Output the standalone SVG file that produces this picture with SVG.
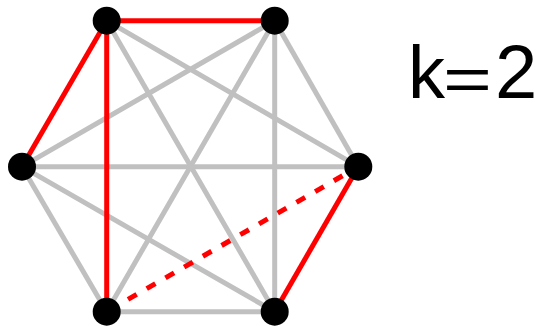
<svg xmlns="http://www.w3.org/2000/svg" width="539" height="326" viewBox="0 0 539 326">
<style>
.g{stroke:#c0c0c0;stroke-width:5;fill:none}
.r{stroke:#ff0000;stroke-width:5;fill:none}
.d{stroke-dasharray:10 11.6;stroke-dashoffset:-3}
.n{fill:#000}
.t{font-family:"Liberation Sans",Arial,sans-serif;font-size:74px;fill:#000}
</style>
<rect width="539" height="326" fill="#fff"/>
<g id="connectors">
<line class="g" x1="274.7" y1="20.7" x2="22" y2="166.7"/>
<line class="g" x1="274.7" y1="20.7" x2="358.3" y2="166.7"/>
<line class="g" x1="274.7" y1="20.7" x2="106.7" y2="311.7"/>
<line class="g" x1="274.7" y1="20.7" x2="274.7" y2="311.7"/>
<line class="g" x1="106.7" y1="20.7" x2="358.3" y2="166.7"/>
<line class="g" x1="106.7" y1="20.7" x2="274.7" y2="311.7"/>
<line class="g" x1="22" y1="166.7" x2="358.3" y2="166.7"/>
<line class="g" x1="22" y1="166.7" x2="106.7" y2="311.7"/>
<line class="g" x1="22" y1="166.7" x2="274.7" y2="311.7"/>
<line class="g" x1="106.7" y1="311.7" x2="274.7" y2="311.7"/>
<line class="r" x1="106.7" y1="20.7" x2="274.7" y2="20.7"/>
<line class="r" x1="106.7" y1="20.7" x2="22" y2="166.7"/>
<line class="r" x1="106.7" y1="20.7" x2="106.7" y2="311.7"/>
<line class="r" x1="358.3" y1="166.7" x2="274.7" y2="311.7"/>
<line class="r d" x1="106.7" y1="311.7" x2="358.3" y2="166.7"/>
</g>
<g id="n1"><circle class="n" cx="106.7" cy="20.7" r="14"/></g>
<g id="n2"><circle class="n" cx="274.7" cy="20.7" r="14"/></g>
<g id="n3"><circle class="n" cx="22" cy="166.7" r="14"/></g>
<g id="n4"><circle class="n" cx="358.3" cy="166.7" r="14"/></g>
<g id="n5"><circle class="n" cx="106.7" cy="311.7" r="14"/></g>
<g id="n6"><circle class="n" cx="274.7" cy="311.7" r="14"/></g>
<g id="label">
<text class="t" x="408" y="98">k</text>
<text class="t" x="443" y="100" style="font-size:62px" textLength="49" lengthAdjust="spacingAndGlyphs">=</text>
<text class="t" x="495" y="98" style="font-size:76px">2</text>
</g>
</svg>
